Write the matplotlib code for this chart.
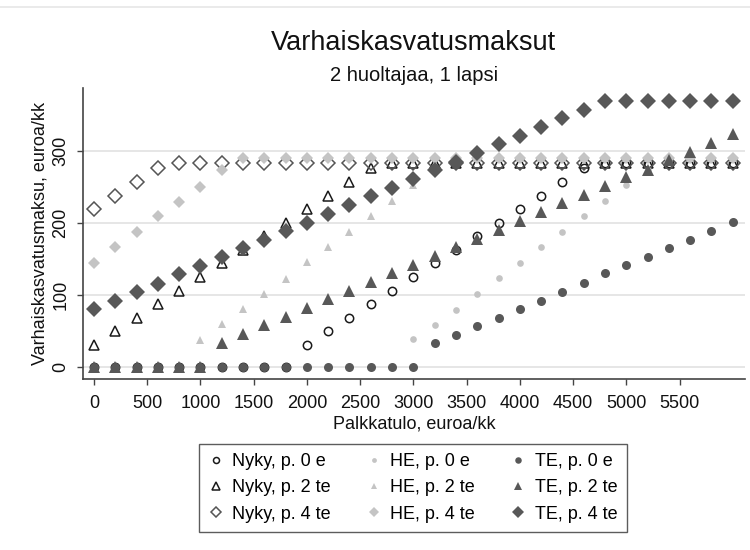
import matplotlib
matplotlib.use("Agg")
import matplotlib.pyplot as plt
from matplotlib.lines import Line2D

plt.rcParams['font.family'] = ['Liberation Sans', 'DejaVu Sans']

# ---- data ----
income = [0, 200, 400, 600, 800, 1000, 1200, 1400, 1600, 1800, 2000, 2200, 2400, 2600, 2800,
          3000, 3200, 3400, 3600, 3800, 4000, 4200, 4400, 4600, 4800, 5000, 5200, 5400, 5600,
          5800, 6000]

nyky_0e = [0, 0, 0, 0, 0, 0, 0, 0, 0, 0, 31, 50, 69, 88, 106, 125, 144, 163, 182, 200, 219,
           238, 257, 276, 283, 283, 283, 283, 283, 283, 283]
nyky_2te = [31, 50, 69, 88, 106, 125, 144, 163, 182, 200, 219, 238, 257, 276, 283, 283, 283,
            283, 283, 283, 283, 283, 283, 283, 283, 283, 283, 283, 283, 283, 283]
nyky_4te = [219, 238, 257, 276, 283, 283, 283, 283, 283, 283, 283, 283, 283, 283, 283, 283,
            283, 283, 283, 283, 283, 283, 283, 283, 283, 283, 283, 283, 283, 283, 283]

he_0e = [0, 0, 0, 0, 0, 0, 0, 0, 0, 0, 0, 0, 0, 0, 0, 39, 59, 80, 101, 124, 145, 166, 187,
         210, 231, 252, 273, 290, 290, 290, 290]
he_2te = [0, 0, 0, 0, 0, 38, 60, 81, 102, 123, 146, 167, 188, 209, 231, 252, 273, 290, 290,
          290, 290, 290, 290, 290, 290, 290, 290, 290, 290, 290, 290]
he_4te = [145, 167, 187, 209, 229, 250, 273, 290, 290, 290, 290, 290, 290, 290, 290, 290, 290,
          290, 290, 290, 290, 290, 290, 290, 290, 290, 290, 290, 290, 290, 290]

te_0e = [0, 0, 0, 0, 0, 0, 0, 0, 0, 0, 0, 0, 0, 0, 0, 0, 33, 45, 57, 69, 81, 92, 105, 117,
         130, 142, 153, 165, 177, 189, 201]
te_2te = [0, 0, 0, 0, 0, 0, 33, 46, 58, 70, 82, 94, 106, 118, 130, 142, 154, 166, 178, 190,
          203, 215, 227, 239, 251, 263, 274, 287, 299, 311, 323]
te_4te = [81, 92, 105, 116, 129, 141, 153, 165, 177, 189, 200, 213, 225, 237, 249, 261, 273,
          285, 297, 309, 321, 333, 345, 357, 369, 369, 369, 369, 369, 369, 369]

labels = ["Nyky, p. 0 e", "Nyky, p. 2 te", "Nyky, p. 4 te",
          "HE, p. 0 e", "HE, p. 2 te", "HE, p. 4 te",
          "TE, p. 0 e", "TE, p. 2 te", "TE, p. 4 te"]
xticks = [0, 500, 1000, 1500, 2000, 2500, 3000, 3500, 4000, 4500, 5000, 5500]
yticks = [0, 100, 200, 300]

# ---- styles ----
DARK = '#585858'
LIGHT = '#c4c4c4'
series = [
    (nyky_0e, dict(marker='o', ms=6.0, mfc='none', mec='#1a1a1a', mew=1.1)),
    (nyky_2te, dict(marker='^', ms=7.5, mfc='none', mec='#1a1a1a', mew=1.1)),
    (nyky_4te, dict(marker='D', ms=7.0, mfc='none', mec='#555555', mew=1.1)),
    (he_0e, dict(marker='o', ms=4.8, mfc=LIGHT, mec=LIGHT, mew=0)),
    (he_2te, dict(marker='^', ms=6.0, mfc=LIGHT, mec=LIGHT, mew=0)),
    (he_4te, dict(marker='D', ms=6.5, mfc=LIGHT, mec=LIGHT, mew=0)),
    (te_0e, dict(marker='o', ms=6.5, mfc=DARK, mec=DARK, mew=0)),
    (te_2te, dict(marker='^', ms=8.0, mfc=DARK, mec=DARK, mew=0)),
    (te_4te, dict(marker='D', ms=8.3, mfc=DARK, mec=DARK, mew=0)),
]

fig = plt.figure(figsize=(7.5, 5.5), dpi=100)
ax = fig.add_axes([0.1103, 0.3104, 0.8830, 0.5296])

fig.add_artist(Line2D([0, 1], [0.987, 0.987], transform=fig.transFigure,
                      color='#e6e6e6', lw=1.2))

for (vals, st), lab in zip(series, labels):
    ax.plot(income, vals, linestyle='none', label=lab, **st)

ax.set_xlim(-106, 6115)
ax.set_ylim(-16.6, 387)
ax.set_xticks(xticks)
ax.set_yticks(yticks)
ax.grid(axis='y', color='#e6e6e6', lw=1.4)
ax.set_axisbelow(True)
for s in ['top', 'right']:
    ax.spines[s].set_visible(False)
for s in ['left', 'bottom']:
    ax.spines[s].set_color('#444444')
    ax.spines[s].set_linewidth(1.2)
ax.tick_params(axis='both', length=4.5, width=1.0, color='#444444',
               labelsize=13, labelcolor='#111111', pad=5)
ax.tick_params(axis='x', pad=6.5)
plt.setp(ax.get_yticklabels(), rotation=90, va='center')

ax.set_xlabel("Palkkatulo, euroa/kk", fontsize=13, labelpad=3, color='#111111')
ax.set_ylabel("Varhaiskasvatusmaksu, euroa/kk", fontsize=13, labelpad=3, color='#111111')

ax.text(0.5, 1.0 + (88 - 43) / 291.3, "Varhaiskasvatusmaksut", transform=ax.transAxes,
        ha='center', va='center', fontsize=19.5, color='#111111')
ax.text(0.5, 1.0 + (88 - 75) / 291.3, "2 huoltajaa, 1 lapsi", transform=ax.transAxes,
        ha='center', va='center', fontsize=14.5, color='#111111')

leg_handles = []
for (vals, st), lab in zip(series, labels):
    st2 = dict(st)
    st2['ms'] = st['ms'] * 0.72
    leg_handles.append(Line2D([], [], linestyle='none', label=lab, **st2))

leg = fig.legend(handles=leg_handles, ncol=3, loc='center',
                 bbox_to_anchor=(413 / 750, 1 - 488 / 550), fontsize=13,
                 frameon=True, fancybox=False, edgecolor='#333333',
                 handlelength=0.8, handletextpad=0.5, columnspacing=2.0,
                 labelspacing=0.5, borderpad=0.55, borderaxespad=0)
leg.get_frame().set_linewidth(1.0)

fig.savefig("out.png", dpi=100, facecolor='white')
